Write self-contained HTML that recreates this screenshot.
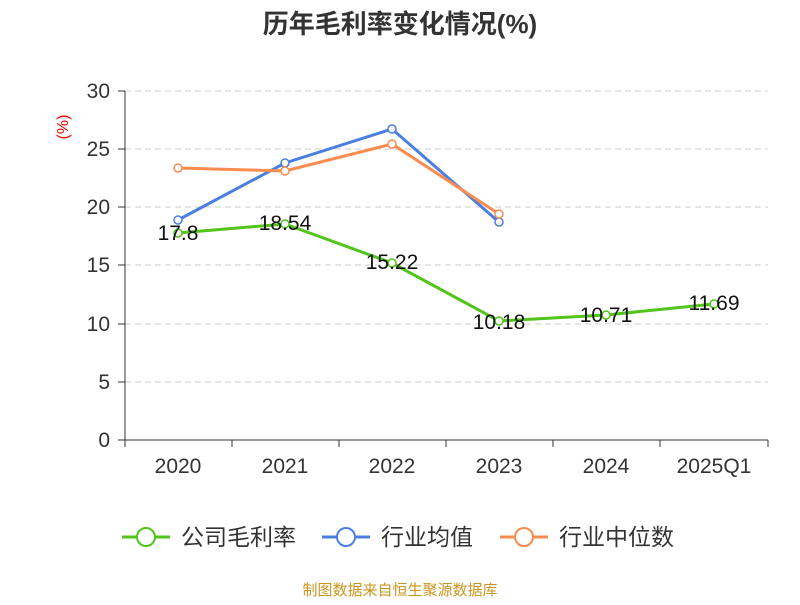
<!DOCTYPE html>
<html><head><meta charset="utf-8"><style>
body{margin:0;background:#fff;}
svg text{font-family:"Liberation Sans","Noto Sans CJK SC",sans-serif;}
</style></head><body>
<svg width="800" height="600" viewBox="0 0 800 600" xmlns="http://www.w3.org/2000/svg">
<text x="400" y="33" text-anchor="middle" font-size="26" font-weight="bold" fill="#333">历年毛利率变化情况(%)</text>
<text x="68" y="127" font-size="16" fill="#e00" transform="rotate(-90 68 127)" text-anchor="middle">(%)</text>
<g stroke="#ccc" stroke-dasharray="6,4" stroke-width="1">
<line x1="125" x2="768" y1="91" y2="91"/><line x1="125" x2="768" y1="149" y2="149"/>
<line x1="125" x2="768" y1="207" y2="207"/><line x1="125" x2="768" y1="265" y2="265"/>
<line x1="125" x2="768" y1="324" y2="324"/><line x1="125" x2="768" y1="382" y2="382"/>
</g>
<g stroke="#333" stroke-width="1">
<line x1="125" x2="125" y1="91" y2="440"/><line x1="125" x2="768" y1="440" y2="440"/>
<line x1="118" x2="125" y1="91" y2="91"/><line x1="118" x2="125" y1="149" y2="149"/>
<line x1="118" x2="125" y1="207" y2="207"/><line x1="118" x2="125" y1="265" y2="265"/>
<line x1="118" x2="125" y1="324" y2="324"/><line x1="118" x2="125" y1="382" y2="382"/>
<line x1="118" x2="125" y1="440" y2="440"/>
<line x1="125" x2="125" y1="440" y2="447"/><line x1="232" x2="232" y1="440" y2="447"/>
<line x1="339" x2="339" y1="440" y2="447"/><line x1="446" x2="446" y1="440" y2="447"/>
<line x1="553" x2="553" y1="440" y2="447"/><line x1="660" x2="660" y1="440" y2="447"/>
<line x1="768" x2="768" y1="440" y2="447"/>
</g>
<g font-size="21" fill="#333" text-anchor="end">
<text x="110" y="98">30</text><text x="110" y="156">25</text><text x="110" y="214">20</text>
<text x="110" y="272">15</text><text x="110" y="331">10</text><text x="110" y="389">5</text><text x="110" y="447">0</text>
</g>
<g font-size="21" fill="#333" text-anchor="middle">
<text x="178" y="473">2020</text><text x="285" y="473">2021</text><text x="392" y="473">2022</text>
<text x="499" y="473">2023</text><text x="606" y="473">2024</text><text x="714" y="473">2025Q1</text>
</g>
<polyline fill="none" stroke="#52c41a" stroke-width="3" points="178,233 285,224 392,263 499,321 606,315 714,304"/>
<polyline fill="none" stroke="#4a7fe0" stroke-width="3" points="178,220 285,163 392,129 499,222"/>
<polyline fill="none" stroke="#fa8c50" stroke-width="3" points="178,168 285,171 392,144 499,214"/>
<g fill="#fff" stroke-width="1.5">
<g stroke="#52c41a"><circle cx="178" cy="233" r="4"/><circle cx="285" cy="224" r="4"/><circle cx="392" cy="263" r="4"/><circle cx="499" cy="321" r="4"/><circle cx="606" cy="315" r="4"/><circle cx="714" cy="304" r="4"/></g>
<g stroke="#4a7fe0"><circle cx="178" cy="220" r="4"/><circle cx="285" cy="163" r="4"/><circle cx="392" cy="129" r="4"/><circle cx="499" cy="222" r="4"/></g>
<g stroke="#fa8c50"><circle cx="178" cy="168" r="4"/><circle cx="285" cy="171" r="4"/><circle cx="392" cy="144" r="4"/><circle cx="499" cy="214" r="4"/></g>
</g>
<g font-size="21" fill="#111" text-anchor="middle">
<text x="178" y="240">17.8</text><text x="285" y="230">18.54</text><text x="392" y="269">15.22</text>
<text x="499" y="329">10.18</text><text x="606" y="322">10.71</text><text x="714" y="310">11.69</text>
</g>
<g font-size="23" fill="#333">
<line x1="122" x2="170" y1="537" y2="537" stroke="#52c41a" stroke-width="3"/><circle cx="146" cy="537" r="9" fill="#fff" stroke="#52c41a" stroke-width="2"/>
<text x="181" y="545">公司毛利率</text>
<line x1="322" x2="370" y1="537" y2="537" stroke="#4a7fe0" stroke-width="3"/><circle cx="346" cy="537" r="9" fill="#fff" stroke="#4a7fe0" stroke-width="2"/>
<text x="381" y="545">行业均值</text>
<line x1="500" x2="548" y1="537" y2="537" stroke="#fa8c50" stroke-width="3"/><circle cx="524" cy="537" r="9" fill="#fff" stroke="#fa8c50" stroke-width="2"/>
<text x="559" y="545">行业中位数</text>
</g>
<text x="400" y="595" text-anchor="middle" font-size="15" fill="#c8961e">制图数据来自恒生聚源数据库</text>
</svg>
</body></html>
